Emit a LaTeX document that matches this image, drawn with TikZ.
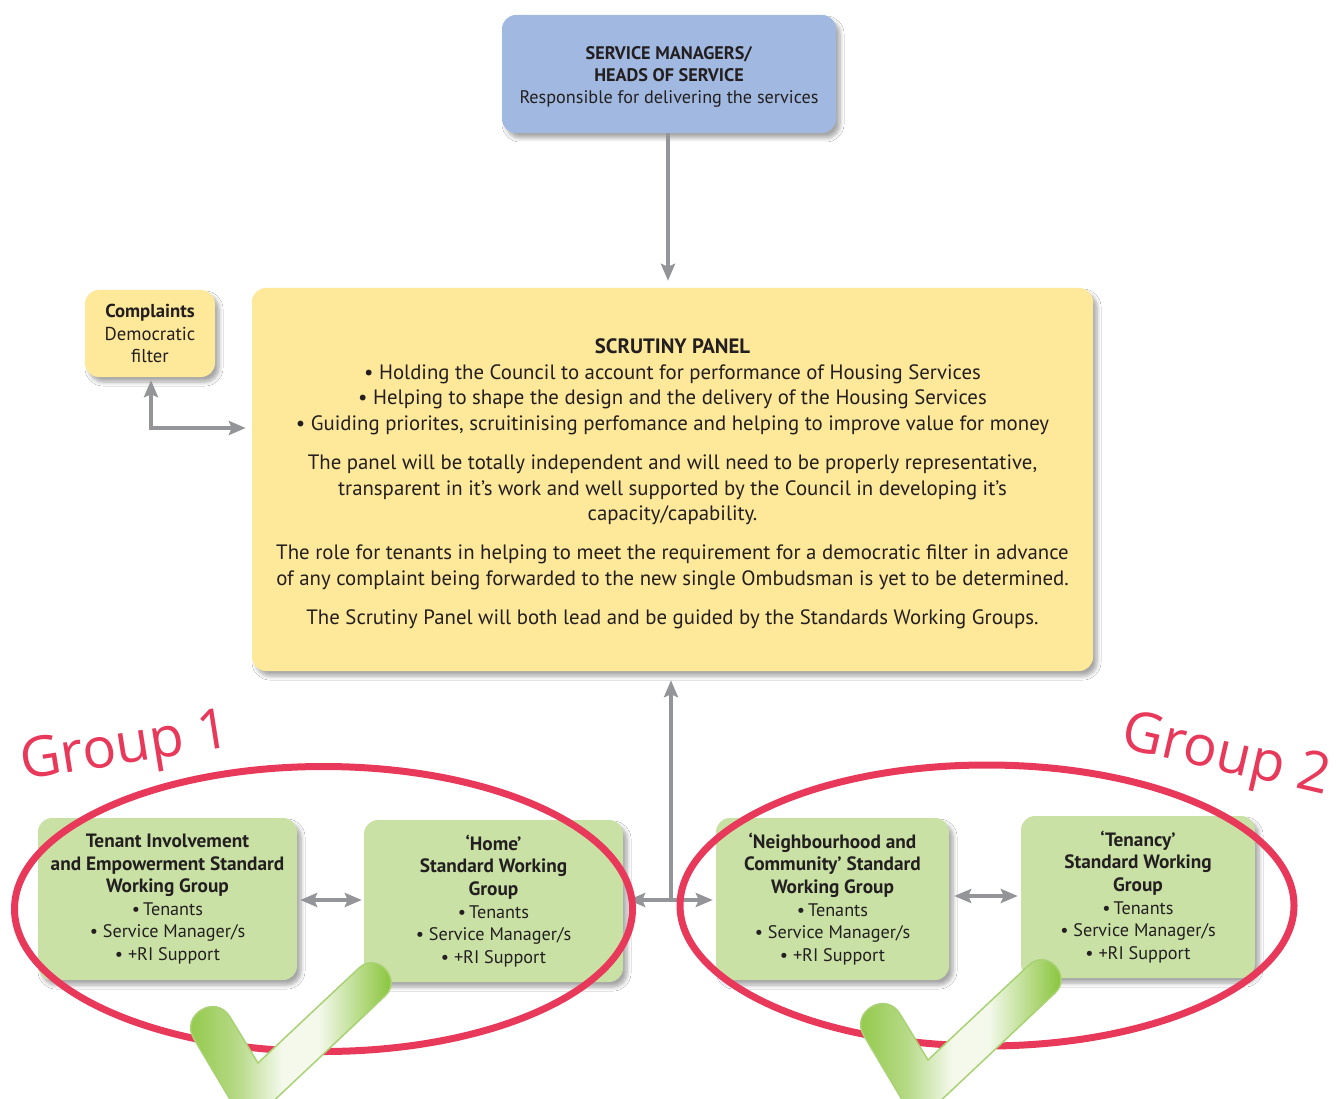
\documentclass[tikz,border=0pt]{standalone}
\usepackage{fontspec}
\setmainfont{PT Sans}
\newfontfamily\handfont{Open Sans}
\usetikzlibrary{arrows.meta,shadows.blur,calc}
\definecolor{bluebox}{HTML}{A1B9E1}
\definecolor{yellowbox}{HTML}{FEE89A}
\definecolor{greenbox}{HTML}{C9E1A5}
\definecolor{arrowgray}{HTML}{939598}
\definecolor{ringred}{HTML}{E8395B}
\definecolor{txt}{HTML}{231F20}
\definecolor{chkA}{HTML}{8CC63F}
\definecolor{chkB}{HTML}{B7DA88}
\definecolor{chkW}{HTML}{F4F9EC}
\definecolor{chkEdge}{HTML}{A8D273}
\pgfdeclarehorizontalshading{chk}{100bp}{color(0bp)=(chkA); color(25bp)=(chkA); color(38bp)=(chkB); color(48bp)=(chkW); color(56bp)=(chkW); color(72bp)=(chkA); color(100bp)=(chkA)}
\newcommand\bl[1]{{\fontsize{19.3}{22.6}\selectfont\bfseries #1}}
\begin{document}
\begin{tikzpicture}[x=1pt,y=-1pt,
  box/.style={rounded corners=14pt, align=center, text=txt, inner sep=4pt,
    blur shadow={shadow blur steps=6, shadow xshift=4pt, shadow yshift=-5pt, shadow opacity=35, shadow blur radius=4pt}},
  conn/.style={draw=arrowgray, line width=4pt},
  tip/.style={-{Stealth[length=17pt,width=14pt,inset=3pt]}},
  dtip/.style={{Stealth[length=17pt,width=14pt,inset=3pt]}-{Stealth[length=17pt,width=14pt,inset=3pt]}},
  ring/.style={draw=ringred, line width=7pt},
  grouplbl/.style={text=ringred, font=\handfont\fontsize{56}{60}\selectfont},
  pics/tick/.style={code={
    \shade[shading=chk, draw=chkEdge, line width=1.5pt]
      (-18,11) -- (22,78) -- (53,81) -- (173,-32)
      .. controls (191,-49) and (165,-77) .. (147,-60)
      -- (46,35) -- (18,-11)
      .. controls (3.6,-35) and (-32.4,-13) .. cycle;
  }}
]
\useasboundingbox (0,0) rectangle (1336,1099);
\fill[white] (0,0) rectangle (1336,1099);

% top box
\node[box, fill=bluebox, minimum width=334pt, minimum height=118pt] (mgr) at (669,74) {};
\node[align=center, text=txt, font=\fontsize{18.2}{22}\selectfont] (mgrtext) at (669,77)
  {\textbf{SERVICE MANAGERS/}\\\textbf{HEADS OF SERVICE}\\Responsible for delivering the services};

% scrutiny panel
\node[box, fill=yellowbox, minimum width=841pt, minimum height=383pt] (panel) at (672.5,479.5) {};
\node[align=center, text=txt, font=\fontsize{20.8}{25.6}\selectfont] (paneltext) at (672.5,484)
  {\textbf{SCRUTINY PANEL}\\
   \textbullet\ Holding the Council to account for performance of Housing Services\\
   \textbullet\ Helping to shape the design and the delivery of the Housing Services\\
   \textbullet\ Guiding priorites, scruitinising perfomance and helping to improve value for money\\[13.5pt]
   The panel will be totally independent and will need to be properly representative,\\
   transparent in it’s work and well supported by the Council in developing it’s\\
   capacity/capability.\\[13.5pt]
   The role for tenants in helping to meet the requirement for a democratic filter in advance\\
   of any complaint being forwarded to the new single Ombudsman is yet to be determined.\\[13.5pt]
   The Scrutiny Panel will both lead and be guided by the Standards Working Groups.};

% complaints
\node[box, fill=yellowbox, minimum width=130pt, minimum height=87pt,
  font=\fontsize{18.7}{22.5}\selectfont] (comp) at (150,333.5)
  {\textbf{Complaints}\\Democratic\\filter};

% green boxes
\begin{scope}[every node/.append style={box, fill=greenbox, minimum height=162pt,
  font=\fontsize{18.2}{22.6}\selectfont}]
\node[minimum width=259pt] (g1) at (167.5,899)
  {\bl{Tenant Involvement}\\\bl{and Empowerment Standard}\\\bl{Working Group}\\
   \textbullet\,Tenants\\\textbullet\ Service Manager/s\\\textbullet\ +RI Support};
\node[minimum width=259pt] (g2) at (493.5,901)
  {\bl{‘Home’}\\\bl{Standard Working}\\\bl{Group}\\
   \textbullet\,Tenants\\\textbullet\ Service Manager/s\\\textbullet\ +RI Support};
\node[minimum width=233pt] (g3) at (832.5,899)
  {\bl{‘Neighbourhood and}\\\bl{Community’ Standard}\\\bl{Working Group}\\
   \textbullet\,Tenants\\\textbullet\ Service Manager/s\\\textbullet\ +RI Support};
\node[minimum width=234pt] (g4) at (1138,897)
  {\bl{‘Tenancy’}\\\bl{Standard Working}\\\bl{Group}\\
   \textbullet\,Tenants\\\textbullet\ Service Manager/s\\\textbullet\ +RI Support};
\end{scope}

% connectors
\coordinate (cb) at (151,428);
\coordinate (hub) at (671,900);
\draw[conn, tip, shorten >=7pt] (mgr.south -| 668,0) -- (panel.north -| 668,0);
\draw[conn, dtip, shorten <=3pt, shorten >=6pt] (comp.south -| cb) -- (cb) -- (cb -| panel.west);
\draw[conn, tip, shorten >=9pt] (hub) -- (panel.south -| hub);
\draw[conn, dtip, shorten <=5pt, shorten >=3pt] (g2.east |- hub) -- (g3.west |- hub);
\draw[conn, dtip, shorten <=3pt, shorten >=2pt] (g1.east |- 0,900) -- (g2.west |- 0,900);
\draw[conn, dtip, shorten <=5pt, shorten >=3pt] (g3.east |- 0,896) -- (g4.west |- 0,896);

% red rings
\draw[ring] (323.5,909) ellipse [x radius=309, y radius=142.5];
\draw[ring] (987,905.5) ellipse [x radius=307, y radius=140.5];

% ticks
\pic at (212,1028) {tick};
\pic at (882,1025) {tick};

% group labels
\node[grouplbl, rotate=9] (lbl1) at (126,750) {Group 1};
\node[grouplbl, rotate=-13] (lbl2) at (1226,758) {Group 2};
\end{tikzpicture}
\end{document}
